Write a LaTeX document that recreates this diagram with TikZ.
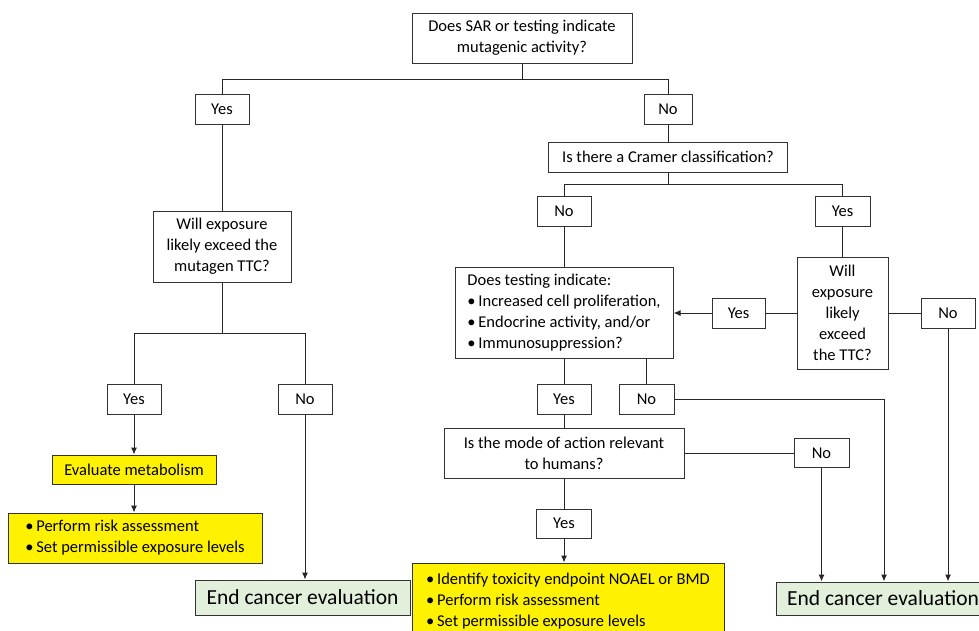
\documentclass[tikz,border=0pt]{standalone}
\usepackage{fontspec}
\setmainfont{Carlito}
\usetikzlibrary{arrows.meta}
\definecolor{endgreen}{RGB}{226,239,218}
\newcommand{\bul}{\makebox[11pt][l]{•}}
\tikzset{
  box/.style={draw=black!80, line width=1pt, fill=white, inner sep=2pt, align=center,
    font=\fontsize{16.5}{21}\selectfont},
  ans/.style={box, minimum width=54pt, minimum height=30pt},
  actbox/.style={box, fill=yellow, align=left},
  endbox/.style={box, fill=endgreen, font=\fontsize{21.5}{25}\selectfont},
  link/.style={draw=black!85, line width=1pt},
}

\begin{document}
\begin{tikzpicture}[x=1pt, y=-1pt, >={Latex[length=7pt,width=6pt]}]
  \clip (0,0) rectangle (979,630);

  \node[box, minimum width=220pt, minimum height=50pt] (q1) at (522,38) {Does SAR or testing indicate\\mutagenic activity?};
  \node[ans] (yesA) at (222,109) {Yes};
  \node[ans, minimum width=48pt] (noA) at (668,109) {No};

  \node[box, minimum width=239pt, minimum height=30pt] (q2) at (668,157) {Is there a Cramer classification?};
  \node[ans] (noB) at (564,211) {No};
  \node[ans, minimum width=55pt] (yesB) at (842.5,211) {Yes};

  \node[box, minimum width=91pt, minimum height=112pt] (q3) at (842.5,313) {Will\\exposure\\likely\\exceed\\the TTC?};
  \node[ans, minimum width=53pt] (yesC) at (738.5,313) {Yes};
  \node[ans] (noC) at (948,313) {No};

  \node[box, align=left, minimum width=218pt, minimum height=91pt] (q4) at (564,313) {Does testing indicate:\\\bul Increased cell proliferation,\\\bul Endocrine activity, and/or\\\bul Immunosuppression?};
  \node[ans] (yesD) at (564,399) {Yes};
  \node[ans, minimum width=55pt] (noD) at (646.5,399) {No};

  \node[box, minimum width=240pt, minimum height=50pt] (q5) at (564,453) {Is the mode of action relevant\\to humans?};
  \node[ans, minimum width=55pt, minimum height=29pt] (noE) at (821.5,453) {No};
  \node[ans, minimum width=55pt, minimum height=29pt] (yesE) at (564,523.5) {Yes};
  \node[actbox, minimum width=312pt, minimum height=77pt] (act2) at (568,601.5) {\bul Identify toxicity endpoint NOAEL or BMD\\\bul Perform risk assessment\\\bul Set permissible exposure levels};
  \node[endbox, minimum width=214pt, minimum height=33pt] (endR) at (883,598.5) {End cancer evaluation};

  \node[box, minimum width=138pt, minimum height=71pt] (q6) at (222,246.5) {Will exposure\\likely exceed the\\mutagen TTC?};
  \node[ans] (yesF) at (134,399) {Yes};
  \node[ans] (noF) at (305,399) {No};
  \node[box, fill=yellow, minimum width=164pt, minimum height=29pt] (evalM) at (134,469.5) {Evaluate metabolism};
  \node[actbox, minimum width=254pt, minimum height=50pt] (act1) at (135,538) {\bul Perform risk assessment\hspace*{25pt}\\\bul Set permissible exposure levels};
  \node[endbox, minimum width=215pt, minimum height=35pt] (endL) at (302.5,597.5) {End cancer evaluation};

  \coordinate (j1) at (522,79);
  \coordinate (j2) at (668,184);
  \coordinate (j3) at (222,333);
  \coordinate (k1) at (884,582);

  \draw[link] (q1) -- (j1) -| (yesA);
  \draw[link] (j1) -| (noA);
  \draw[link] (noA) -- (q2);
  \draw[link] (q2) -- (j2) -| (noB);
  \draw[link] (j2) -| (yesB);
  \draw[link] (noB) -- (q4);
  \draw[link] (yesB) -- (q3);
  \draw[link] (q3) -- (yesC);
  \draw[link, ->] (yesC.west) -- (yesC.west -| q4.east);
  \draw[link] (q3) -- (noC);
  \draw[link, ->] (noC) -- (noC |- endR.north);
  \draw[link] (q4) -- (yesD);
  \draw[link] (noD) -- (noD |- q4.south);
  \draw[link, ->] (noD) -| (k1 |- endR.north);
  \draw[link] (yesD) -- (q5);
  \draw[link] (q5) -- (noE);
  \draw[link, ->] (noE) -- (noE |- endR.north);
  \draw[link] (q5) -- (yesE);
  \draw[link, ->] (yesE) -- (yesE |- act2.north);

  \draw[link] (yesA) -- (q6);
  \draw[link] (q6) -- (j3) -| (yesF);
  \draw[link] (j3) -| (noF);
  \draw[link, ->] (yesF) -- (evalM);
  \draw[link, ->] (evalM) -- (evalM |- act1.north);
  \draw[link, ->] (noF) -- (noF |- endL.north);
\end{tikzpicture}
\end{document}
